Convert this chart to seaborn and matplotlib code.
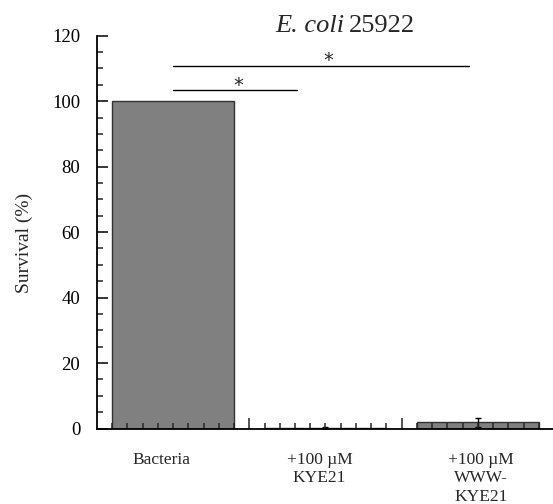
import numpy as np
import pandas as pd
import matplotlib
matplotlib.use("Agg")
import matplotlib.pyplot as plt
from matplotlib.transforms import offset_copy
import seaborn as sns

categories = ["Bacteria", "+100 \u00b5M\nKYE21", "+100 \u00b5M\nWWW-\nKYE21"]
survival = [100.0, 0.2, 1.9]
errors = [0.0, 0.2, 1.3]
y_ticks = [0, 20, 40, 60, 80, 100, 120]
sig_lines = [(0.0, 0.81, 103.4), (0.0, 1.94, 110.8)]
sig_stars = [(0.43, 103.4), (1.02, 110.8)]

sns.set_style("ticks")
plt.rcParams["font.family"] = ["Liberation Serif", "DejaVu Serif"]

fig = plt.figure(figsize=(5.53, 5.04), dpi=100)
ax = fig.add_axes([97 / 553, 75.5 / 504, 457 / 553, 392.8 / 504])

df = pd.DataFrame({"cat": categories, "val": survival})
sns.barplot(data=df, x="cat", y="val", color="#808080", saturation=1,
            width=0.8, edgecolor="#333333", linewidth=1.0, ax=ax, errorbar=None)
idx = [i for i, e in enumerate(errors) if e > 0]
ax.errorbar(x=idx, y=[survival[i] for i in idx], yerr=[errors[i] for i in idx],
            fmt="none", ecolor="black", elinewidth=1.0, capsize=2.5, capthick=1.0)

ax.set_axisbelow(False)
ax.set_xlim(-0.5, 2.5)
ax.set_ylim(0, 120)
sns.despine(ax=ax)
for s in ["left", "bottom"]:
    ax.spines[s].set_linewidth(1.3)
    ax.spines[s].set_color("black")
    ax.spines[s].set_zorder(5)

ax.set_yticks(y_ticks)
ax.set_yticks(np.arange(0, 121, 5), minor=True)
ax.tick_params(axis="y", which="major", direction="in", length=8, width=1.1,
               labelsize=13.5, pad=12, colors="black")
ax.tick_params(axis="y", which="minor", direction="in", length=4, width=1.1)

ax.set_xticks([0.5, 1.5])
ax.set_xticklabels(["", ""])
minor_x = [round(v, 1) for v in np.arange(-0.4, 2.45, 0.1) if abs(v - 0.5) > 0.01 and abs(v - 1.5) > 0.01]
ax.set_xticks(minor_x, minor=True)
ax.tick_params(axis="x", which="major", direction="in", length=8, width=1.1)
ax.tick_params(axis="x", which="minor", direction="in", length=4, width=1.1)
ax.set_xlabel("")

label_x = [-0.075, 0.96, 2.02]
for lx, lab in zip(label_x, categories):
    ax.text(lx, -0.06, lab, transform=ax.get_xaxis_transform(), ha="center",
            va="top", fontsize=12.5, multialignment="center")

ax.set_ylabel("Survival (%)", fontsize=14)
ax.yaxis.set_label_coords(-0.16, 0.472)
ax.yaxis.label.set_va("center")

for x0, x1, y in sig_lines:
    ax.plot([x0, x1], [y, y], color="black", lw=1.0, clip_on=False)
for sx, sy in sig_stars:
    ax.text(sx, sy - 0.2, "*", ha="center", va="baseline", fontsize=14,
            family="DejaVu Sans", clip_on=False)

# title: italic species + plain strain number
t1 = ax.text(0.67, 121.2, "E. coli", ha="left", va="baseline", fontsize=19,
             style="italic", clip_on=False)
fig.canvas.draw()
r = fig.canvas.get_renderer()
w1 = t1.get_window_extent(r).width
tr = offset_copy(ax.transData, fig=fig, x=(w1 + 5) * 72 / fig.dpi, y=0, units="points")
ax.text(0.67, 121.2, "25922", ha="left", va="baseline", fontsize=19,
        transform=tr, clip_on=False)

fig.savefig("out.png", dpi=100)
